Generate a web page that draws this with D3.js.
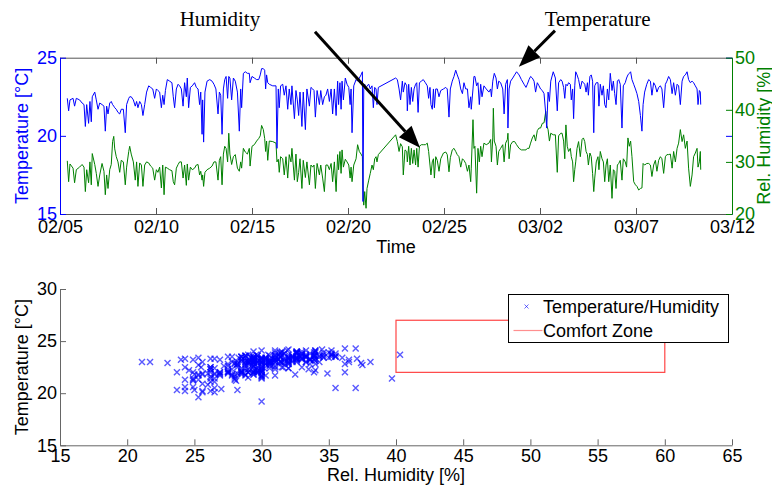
<!DOCTYPE html>
<html>
<head>
<meta charset="utf-8">
<script src="https://cdn.jsdelivr.net/npm/d3@7"></script>
<style>
  body { margin: 0; background: #fff; }
</style>
</head>
<body>
<div id="chart"></div>
<script>
// readings: [day since 02/05, temperature degC, rel. humidity %]
const readings = [
  [0.38,22.4,30.2],[0.45,21.6,26.2],[0.52,22.3,29.6],[0.68,22.4,28.8],[0.76,21.9,26.0],[0.85,22.4,28.5],
  [1.02,22.3,29.0],[1.15,22.1,29.5],[1.25,22.0,29.0],[1.32,20.6,24.3],[1.39,22.0,28.5],[1.49,20.8,26.0],
  [1.56,22.2,30.0],[1.63,20.9,25.6],[1.68,22.5,31.6],[1.81,22.8,29.5],[1.89,22.3,27.8],[1.98,21.7,25.3],
  [2.07,22.1,27.5],[2.19,22.0,29.7],[2.29,21.9,28.2],[2.36,20.3,23.7],[2.43,21.9,27.5],[2.50,21.4,24.9],
  [2.59,22.1,28.5],[2.67,22.2,29.5],[2.74,22.0,33.9],[2.80,21.9,34.9],[2.85,21.8,32.5],[2.93,21.7,31.0],
  [3.02,21.5,30.0],[3.11,21.4,28.0],[3.19,21.7,30.3],[3.30,21.7,30.0],[3.40,20.2,25.6],[3.47,22.0,29.0],
  [3.58,22.4,32.0],[3.63,22.5,33.0],[3.71,22.5,31.5],[3.82,22.3,30.0],[3.92,21.9,26.5],[3.99,22.2,30.0],
  [4.06,21.8,25.3],[4.15,22.2,29.8],[4.24,22.0,29.4],[4.32,21.3,25.3],[4.41,22.0,29.4],[4.51,22.8,30.0],
  [4.62,23.2,29.8],[4.72,23.1,29.2],[4.83,23.0,28.8],[4.93,22.4,26.5],[5.02,23.0,28.5],[5.10,22.9,28.0],
  [5.19,22.8,29.0],[5.28,21.8,25.0],[5.35,22.6,29.4],[5.42,22.0,23.7],[5.49,22.9,29.0],[5.59,23.6,28.8],
  [5.71,23.5,28.5],[5.83,23.4,28.3],[5.90,22.5,26.2],[5.97,21.8,25.6],[6.06,23.0,28.8],[6.15,23.3,29.5],
  [6.23,23.2,30.0],[6.32,23.0,30.0],[6.41,21.9,26.9],[6.49,23.4,29.4],[6.58,22.5,25.5],[6.63,23.7,29.6],
  [6.70,21.8,26.5],[6.79,23.1,29.0],[6.89,23.2,28.5],[7.01,23.4,28.8],[7.10,23.1,29.4],[7.19,23.0,29.5],
  [7.27,22.0,27.5],[7.33,22.8,28.2],[7.40,20.1,26.5],[7.43,22.3,27.5],[7.48,19.6,25.3],[7.55,22.8,28.0],
  [7.66,23.5,28.5],[7.80,23.6,28.8],[7.92,23.5,29.2],[8.02,23.3,30.0],[8.12,23.0,30.0],[8.23,21.4,26.5],
  [8.30,22.8,30.3],[8.37,22.6,31.0],[8.44,20.1,25.6],[8.51,23.0,31.5],[8.58,23.6,33.0],
  [8.65,23.8,32.6],[8.73,22.4,30.0],[8.79,23.8,35.5],[8.85,23.7,31.5],[8.94,22.3,29.5],[9.03,23.7,31.0],
  [9.13,23.5,31.4],[9.24,22.8,28.8],[9.34,20.3,28.2],[9.41,23.0,30.0],[9.46,21.8,28.8],[9.55,24.0,32.6],
  [9.65,24.1,31.9],[9.76,24.0,31.5],[9.86,24.0,32.6],[9.90,23.4,29.2],[10.00,23.8,33.0],[10.12,23.7,33.3],
  [10.24,23.6,34.0],[10.35,23.6,34.5],[10.43,23.9,35.0],[10.50,24.3,37.0],[10.59,24.3,36.2],[10.66,24.2,34.5],
  [10.71,23.0,32.0],[10.76,23.9,34.0],[10.82,23.4,30.3],[10.90,23.3,34.0],[11.08,23.2,33.9],[11.25,23.2,33.6],
  [11.30,19.2,30.0],[11.37,23.0,30.5],[11.42,21.8,28.0],[11.49,23.2,31.0],[11.60,23.3,30.6],[11.68,22.6,27.5],
  [11.77,23.2,31.0],[11.86,21.7,26.9],[11.94,23.0,31.4],[12.03,22.0,30.0],[12.08,23.2,32.6],[12.21,21.1,26.5],
  [12.29,22.9,31.5],[12.36,22.3,26.2],[12.43,21.3,28.0],[12.50,22.8,30.6],[12.60,20.6,24.9],[12.67,22.8,30.3],
  [12.78,20.4,27.0],[12.86,23.0,30.0],[12.99,21.9,25.6],[13.07,23.1,29.4],[13.16,23.0,29.0],[13.23,22.9,29.4],
  [13.30,21.2,24.9],[13.39,22.9,29.7],[13.51,22.0,27.5],[13.58,22.9,29.4],[13.68,22.0,26.9],[13.77,22.5,24.3],
  [13.85,22.6,29.4],[13.94,23.0,29.4],[14.03,22.2,28.5],[14.12,23.0,29.7],[14.20,21.4,26.2],[14.29,23.0,30.0],
  [14.38,21.3,24.3],[14.46,23.5,31.4],[14.51,22.0,28.5],[14.58,23.4,32.0],[14.64,21.7,27.8],[14.69,23.5,32.3],
  [14.76,22.3,29.0],[14.86,23.7,30.5],[14.95,23.3,30.0],[15.04,23.1,29.4],[15.11,22.0,26.9],[15.16,23.0,29.0],
  [15.21,20.2,26.2],[15.30,23.2,29.4],[15.42,23.6,30.6],[15.50,23.5,33.3],[15.59,23.7,32.0],[15.68,23.9,31.5],
  [15.75,24.1,31.0],[15.78,15.8,25.0],[15.82,23.0,21.7],[15.87,23.3,24.3],[15.94,23.0,21.1],[15.99,23.2,24.9],
  [16.08,23.3,26.5],[16.16,23.0,27.8],[16.25,23.2,29.4],[16.32,21.8,28.5],[16.39,23.1,30.6],[16.46,23.0,31.0],
  [16.51,22.0,30.0],[16.58,23.1,31.4],
  [17.48,23.7,35.2],[17.57,23.6,33.9],[17.66,23.0,32.0],[17.74,22.3,33.5],[17.83,23.5,32.9],[17.88,22.8,27.5],
  [17.97,23.4,32.3],[18.06,23.2,32.0],[18.09,21.6,30.0],[18.16,23.3,33.0],[18.23,22.0,29.4],[18.30,23.1,32.6],
  [18.37,22.2,29.7],[18.44,23.0,32.3],[18.52,23.3,29.4],[18.58,23.4,32.6],[18.65,21.5,29.0],[18.72,23.4,33.0],
  [18.82,23.5,33.3],[18.92,23.6,33.3],[19.03,23.4,33.3],[19.13,23.2,33.6],[19.20,22.4,32.0],[19.27,23.1,29.4],
  [19.32,22.0,27.5],[19.39,21.7,30.0],[19.45,23.0,30.6],[19.50,21.8,26.9],[19.57,23.0,31.0],[19.65,23.0,30.3],
  [19.74,22.5,28.2],[19.83,22.9,30.6],[19.97,23.0,31.7],[20.09,23.1,31.9],[20.17,23.0,31.4],[20.26,21.2,28.1],
  [20.33,23.0,30.8],[20.43,23.5,32.3],[20.52,23.8,32.6],[20.61,24.2,32.0],[20.69,23.9,31.4],[20.78,23.6,31.0],
  [20.87,23.0,29.0],[20.96,22.7,30.6],[21.04,23.4,30.3],[21.13,23.0,29.7],[21.22,23.0,28.2],[21.30,21.8,29.4],
  [21.39,22.5,26.2],[21.42,21.7,28.8],[21.51,23.0,38.1],[21.56,23.8,32.6],[21.61,23.8,33.0],[21.70,23.2,24.0],
  [21.77,23.4,32.6],[21.84,22.0,30.0],[21.91,23.3,33.0],[21.98,22.5,31.0],[22.08,23.2,33.6],[22.20,23.0,33.3],
  [22.34,22.8,33.6],[22.43,23.0,34.3],[22.47,22.5,30.0],[22.54,23.5,34.6],[22.57,23.7,40.3],[22.62,24.0,34.0],
  [22.71,23.7,33.0],[22.78,23.0,29.4],[22.85,23.5,32.0],[22.95,23.4,32.6],[23.06,23.0,33.3],[23.13,21.4,30.0],
  [23.21,23.3,33.6],[23.30,23.6,34.3],[23.33,20.5,35.5],[23.39,23.0,30.6],[23.47,23.5,33.3],[23.58,23.7,33.9],
  [23.68,23.9,33.9],[23.78,24.1,33.3],[23.91,23.9,32.6],[24.03,23.6,32.3],[24.17,23.3,32.3],[24.27,23.1,32.3],
  [24.34,23.3,32.6],[24.43,23.6,32.6],[24.51,23.8,33.6],[24.60,23.7,34.6],[24.69,23.5,35.2],[24.77,22.8,34.0],
  [24.86,23.4,36.0],[24.95,23.2,36.5],[25.03,23.0,36.5],[25.12,22.9,37.4],[25.21,22.7,37.5],[25.30,21.4,39.7],
  [25.35,20.5,37.0],[25.42,22.8,36.2],[25.49,22.2,34.0],[25.56,23.5,35.5],[25.69,24.1,35.2],[25.80,23.7,35.2],
  [25.90,21.6,28.0],[25.97,23.4,35.0],[26.08,23.6,35.5],
  [26.15,23.5,35.5],[26.23,23.1,34.0],[26.29,22.4,30.6],[26.35,23.3,37.1],[26.42,23.2,33.0],[26.49,23.4,32.0],
  [26.58,23.3,32.6],[26.63,22.3,31.0],[26.70,23.0,30.0],[26.75,21.1,26.2],[26.81,23.2,28.5],[26.86,24.1,30.0],
  [26.93,23.9,32.6],[27.01,23.6,33.9],[27.10,23.0,31.0],[27.19,23.5,34.3],[27.26,23.4,34.6],[27.33,23.3,33.9],
  [27.40,22.8,32.0],[27.47,23.4,31.4],[27.52,22.6,29.4],[27.60,23.8,31.7],[27.67,23.9,31.0],[27.74,23.5,27.8],
  [27.80,20.2,24.3],[27.85,23.2,26.9],[27.93,23.4,30.0],[28.02,23.4,31.0],[28.07,21.9,28.5],[28.14,23.3,32.0],
  [28.23,22.6,30.6],[28.30,23.2,30.0],[28.37,22.0,26.2],[28.44,21.8,29.4],[28.51,23.0,30.6],[28.58,22.3,26.2],
  [28.66,24.0,29.4],[28.75,22.9,23.0],[28.82,23.5,28.5],[28.89,22.7,28.2],[28.96,22.0,24.9],[29.03,23.5,29.4],
  [29.10,23.6,29.7],[29.18,23.3,30.3],[29.27,20.5,26.5],[29.34,23.2,30.6],[29.44,23.4,30.0],[29.51,23.7,29.0],
  [29.58,23.9,34.6],[29.65,24.0,33.0],[29.72,24.1,34.0],[29.79,23.6,31.0],[29.88,23.3,26.2],[29.97,23.0,25.6],
  [30.05,22.7,25.3],[30.14,22.2,24.6],[30.23,21.3,24.9],[30.31,20.3,25.0],[30.37,22.0,29.7],[30.45,22.8,29.4],
  [30.56,23.3,29.7],[30.66,23.6,29.7],[30.75,23.5,29.4],[30.83,22.6,27.2],[30.92,23.4,29.4],[31.01,23.2,30.3],
  [31.09,22.8,28.2],[31.18,23.1,30.3],[31.27,23.2,31.0],[31.35,23.0,30.6],[31.44,21.8,27.8],[31.53,23.3,31.0],
  [31.61,23.5,31.4],[31.70,23.8,31.4],[31.79,23.6,31.5],[31.88,22.7,28.8],[31.96,23.4,32.0],[32.05,22.6,30.0],
  [32.14,23.3,32.6],[32.22,23.2,33.6],[32.31,22.0,36.2],[32.40,23.5,33.9],[32.48,23.8,35.2],[32.57,23.9,32.6],
  [32.66,24.1,34.0],[32.74,23.6,28.8],[32.83,23.4,25.3],[32.92,23.5,27.5],[33.00,23.4,31.0],[33.09,23.2,31.7],
  [33.18,23.0,32.6],[33.23,22.0,29.0],[33.30,22.9,30.0],[33.35,22.8,32.0],[33.37,22.0,28.5]
];

const dayTicks = ["02/05", "02/10", "02/15", "02/20", "02/25", "03/02", "03/07", "03/12"];
const dayTickValues = [0, 5, 10, 15, 20, 25, 30, 35];
const tempTicks = [15, 20, 25];
const humTicks = [20, 30, 40, 50];
const scatterHumTicks = [15, 20, 25, 30, 35, 40, 45, 50, 55, 60, 65];
const scatterTempTicks = [15, 20, 25, 30];
const comfortHum = [40, 60];
const comfortTemp = [22, 27];

// annotations placed in data units of the upper plot
const humNote = { text: "Humidity", at: [8.33, 56.0], from: [13.28, 55.0], to: [18.75, 32.7] };
const tempNote = { text: "Temperature", at: [28.0, 27.0], from: [25.78, 26.73], to: [23.9, 24.42] };

const FONT = "'Liberation Sans', Arial, sans-serif";
const SERIF = "'Liberation Serif', 'Times New Roman', serif";
const width = 772, height = 488;

const svg = d3.select("#chart")
  .append("svg")
  .attr("width", width)
  .attr("height", height)
  .style("background", "#fff");

// ---------- upper plot: time series ----------
const p1 = { left: 60, right: 732, top: 57.7, bottom: 214 };

const x = d3.scaleLinear().domain([0, 35]).range([p1.left, p1.right]);
const yT = d3.scaleLinear().domain([15, 25]).range([p1.bottom, p1.top]);
const yH = d3.scaleLinear().domain([20, 50]).range([p1.bottom, p1.top]);

const humLine = d3.line().x(d => x(d[0])).y(d => yH(d[2]));
const tempLine = d3.line().x(d => x(d[0])).y(d => yT(d[1]));

svg.append("path")
  .datum(readings)
  .attr("d", humLine)
  .attr("fill", "none")
  .attr("stroke", "#008000")
  .attr("stroke-width", 1);

svg.append("path")
  .datum(readings)
  .attr("d", tempLine)
  .attr("fill", "none")
  .attr("stroke", "#0000ff")
  .attr("stroke-width", 1);

function styleAxis(g, color, textColor) {
  g.attr("font-family", FONT).attr("font-size", 18);
  g.selectAll(".domain").attr("stroke", color);
  g.selectAll(".tick line").attr("stroke", color);
  g.selectAll(".tick text").attr("fill", textColor);
}

svg.append("g")
  .attr("transform", `translate(0,${p1.bottom})`)
  .call(d3.axisBottom(x).tickValues(dayTickValues).tickFormat((d, i) => dayTicks[i])
    .tickSize(-6).tickSizeOuter(0).tickPadding(6))
  .call(g => styleAxis(g, "#555", "#000"));

svg.append("g")
  .attr("transform", `translate(0,${p1.top})`)
  .call(d3.axisTop(x).tickValues(dayTickValues).tickFormat("").tickSize(-6).tickSizeOuter(0))
  .call(g => styleAxis(g, "#555", "#000"));

svg.append("g")
  .attr("transform", `translate(${p1.right},0)`)
  .call(d3.axisRight(yT).tickValues(tempTicks).tickFormat("").tickSize(-6).tickSizeOuter(0))
  .call(g => styleAxis(g, "#0000ff", "#0000ff"));

svg.append("g")
  .attr("transform", `translate(${p1.right},0)`)
  .call(d3.axisRight(yH).tickValues(humTicks).tickSize(-6).tickSizeOuter(0).tickPadding(3))
  .call(g => styleAxis(g, "#008000", "#008000"));

svg.append("g")
  .attr("transform", `translate(${p1.left},0)`)
  .call(d3.axisLeft(yT).tickValues(tempTicks).tickSize(-6).tickSizeOuter(0).tickPadding(3))
  .call(g => styleAxis(g, "#0000ff", "#0000ff"));

svg.append("text")
  .attr("transform", "rotate(-90)")
  .attr("x", -(p1.top + p1.bottom) / 2)
  .attr("y", 28)
  .attr("text-anchor", "middle")
  .attr("font-family", FONT).attr("font-size", 18)
  .attr("fill", "#0000ff")
  .text("Temperature [°C]");

svg.append("text")
  .attr("transform", "rotate(-90)")
  .attr("x", -(p1.top + p1.bottom) / 2)
  .attr("y", 770)
  .attr("text-anchor", "middle")
  .attr("font-family", FONT).attr("font-size", 18)
  .attr("fill", "#008000")
  .text("Rel. Humidity [%]");

svg.append("text")
  .attr("x", (p1.left + p1.right) / 2)
  .attr("y", 253)
  .attr("text-anchor", "middle")
  .attr("font-family", FONT).attr("font-size", 18)
  .text("Time");

// annotation arrows
function arrow(x1, y1, x2, y2) {
  const ang = Math.atan2(y2 - y1, x2 - x1);
  const len = 22, half = 8.5;
  const bx = x2 - len * Math.cos(ang), by = y2 - len * Math.sin(ang);
  svg.append("line")
    .attr("x1", x1).attr("y1", y1).attr("x2", bx).attr("y2", by)
    .attr("stroke", "#000").attr("stroke-width", 3);
  svg.append("path")
    .attr("d", `M${x2},${y2}L${bx + half * Math.sin(ang)},${by - half * Math.cos(ang)}L${bx - half * Math.sin(ang)},${by + half * Math.cos(ang)}Z`)
    .attr("fill", "#000");
}

[[humNote, yH], [tempNote, yT]].forEach(([n, ys]) => {
  svg.append("text")
    .attr("x", x(n.at[0]))
    .attr("y", ys(n.at[1]))
    .attr("text-anchor", "middle")
    .attr("font-family", SERIF).attr("font-size", 21)
    .text(n.text);
  arrow(x(n.from[0]), ys(n.from[1]), x(n.to[0]), ys(n.to[1]));
});

// ---------- lower plot: temperature vs humidity ----------
const p2 = { left: 60, right: 732, top: 289, bottom: 445.3 };

const sx = d3.scaleLinear().domain([15, 65]).range([p2.left, p2.right]);
const sy = d3.scaleLinear().domain([15, 30]).range([p2.bottom, p2.top]);

svg.append("rect")
  .attr("x", sx(comfortHum[0]))
  .attr("y", sy(comfortTemp[1]))
  .attr("width", sx(comfortHum[1]) - sx(comfortHum[0]))
  .attr("height", sy(comfortTemp[0]) - sy(comfortTemp[1]))
  .attr("fill", "none")
  .attr("stroke", "#ff4545")
  .attr("stroke-width", 1.2);

const cross = "M-3,-3L3,3M-3,3L3,-3";

// the one-sample sensor glitch (below 18 degC) does not appear in the scatter
const scatterPoints = readings.filter(d => d[1] > 18);

svg.append("g")
  .selectAll("path")
  .data(scatterPoints)
  .join("path")
  .attr("transform", d => `translate(${sx(d[2])},${sy(d[1])})`)
  .attr("d", cross)
  .attr("fill", "none")
  .attr("stroke", "#0000ff")
  .attr("stroke-opacity", 0.65)
  .attr("stroke-width", 1.4);

svg.append("g")
  .attr("transform", `translate(0,${p2.bottom})`)
  .call(d3.axisBottom(sx).tickValues(scatterHumTicks).tickSize(-6).tickSizeOuter(0).tickPadding(4))
  .call(g => styleAxis(g, "#666", "#000"));

svg.append("g")
  .attr("transform", `translate(${p2.left},0)`)
  .call(d3.axisLeft(sy).tickValues(scatterTempTicks).tickSize(-6).tickSizeOuter(0).tickPadding(3))
  .call(g => styleAxis(g, "#666", "#000"));

svg.append("text")
  .attr("x", (p2.left + p2.right) / 2)
  .attr("y", 481)
  .attr("text-anchor", "middle")
  .attr("font-family", FONT).attr("font-size", 18)
  .text("Rel. Humidity [%]");

svg.append("text")
  .attr("transform", "rotate(-90)")
  .attr("x", -(p2.top + p2.bottom) / 2)
  .attr("y", 28)
  .attr("text-anchor", "middle")
  .attr("font-family", FONT).attr("font-size", 18)
  .text("Temperature [°C]");

// legend
const legend = svg.append("g").attr("transform", "translate(508.5,294.5)");
legend.append("rect")
  .attr("width", 220).attr("height", 48)
  .attr("fill", "#fff").attr("stroke", "#000").attr("stroke-width", 1);
legend.append("path")
  .attr("transform", "translate(18,12)")
  .attr("d", "M-2,-2L2,2M-2,2L2,-2")
  .attr("fill", "none").attr("stroke", "#0000ff").attr("stroke-opacity", 0.6);
legend.append("text")
  .attr("x", 34.5).attr("y", 18.5)
  .attr("font-family", FONT).attr("font-size", 18)
  .text("Temperature/Humidity");
legend.append("line")
  .attr("x1", 5).attr("x2", 34).attr("y1", 36).attr("y2", 36)
  .attr("stroke", "#ff4545").attr("stroke-opacity", 0.6).attr("stroke-width", 1.2);
legend.append("text")
  .attr("x", 34.5).attr("y", 42.5)
  .attr("font-family", FONT).attr("font-size", 18)
  .text("Comfort Zone");
</script>
</body>
</html>
